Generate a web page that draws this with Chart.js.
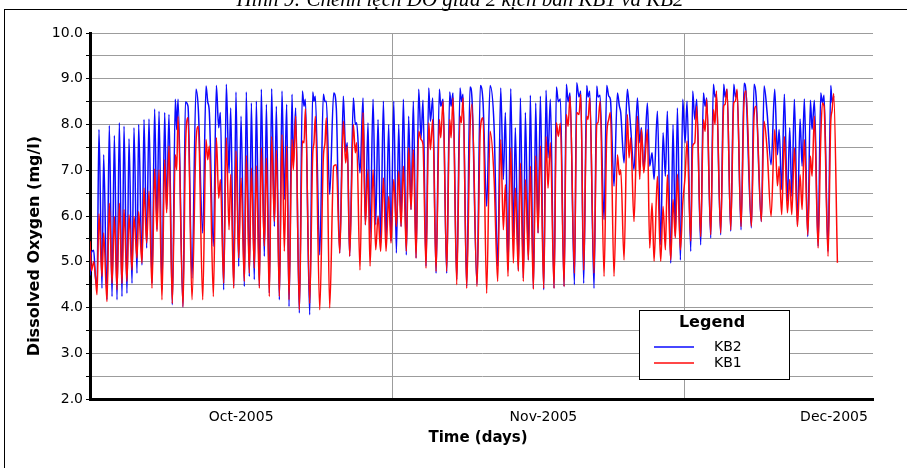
<!DOCTYPE html>
<html>
<head>
<meta charset="utf-8">
<script src="https://cdn.jsdelivr.net/npm/chart.js@4.4.1/dist/chart.umd.min.js"></script>
<style>
  html, body { margin: 0; padding: 0; background: #fff; }
  canvas { display: block; }
</style>
</head>
<body>
<canvas id="chart" width="907" height="468"></canvas>
<script>
// days counted from 1 Oct 2005 (peaks and troughs)
const days = [
  0.00, 0.14, 0.38, 0.55, 0.72, 0.92, 1.23, 1.40, 1.74, 1.98, 2.26, 2.50, 2.77, 3.01, 3.28, 3.49, 3.79, 4.00, 4.31, 4.51,
  4.82, 4.99, 5.33, 5.54, 5.81, 6.05, 6.36, 6.63, 6.87, 7.08, 7.38, 7.66, 7.86, 8.10, 8.44, 8.75, 8.89, 9.03, 9.54, 9.78, 10.05,
  10.46, 10.87, 11.11, 11.56, 11.90, 12.07, 12.24, 12.65, 12.96, 13.20, 13.37, 13.71, 13.98, 14.26, 14.43, 14.74, 14.97, 15.25, 15.49, 15.83,
  16.03, 16.34, 16.55, 16.85, 17.06, 17.37, 17.57, 17.88, 18.09, 18.39, 18.63, 18.91, 19.11, 19.42, 19.69, 19.93, 20.17,
  20.41, 20.72, 20.85, 21.09, 21.47, 21.78, 21.95, 22.09, 22.53, 22.84, 22.97, 23.11, 23.56, 23.93, 24.10, 24.24, 24.58, 24.99, 25.26, 25.61,
  25.98, 26.22, 26.39, 26.63, 27.01, 27.21, 27.35, 27.69, 28.00, 28.24, 28.51, 28.72, 29.03, 29.30, 29.54, 29.81, 30.09,
  30.36, 30.63, 30.87, 31.15, 31.42, 31.66, 31.90, 32.14, 32.44, 32.68, 32.92, 33.16, 33.44, 33.71, 33.95, 34.15, 34.46, 34.74, 34.91, 35.15,
  35.49, 35.83, 35.97, 36.21, 36.58, 36.89, 37.03, 37.23, 37.61, 37.95, 38.09, 38.26, 38.63, 38.97, 39.18, 39.69, 40.03, 40.31,
  40.68, 41.03, 41.44, 41.81, 42.12, 42.39, 42.60, 42.87, 43.15, 43.42, 43.62, 43.93, 44.14, 44.44, 44.65, 44.96, 45.16, 45.47, 45.71, 45.95,
  46.19, 46.53, 46.77, 46.97, 47.21, 47.59, 47.83, 48.03, 48.24, 48.62, 48.85, 49.03, 49.23, 49.68, 49.91, 50.15, 50.33,
  50.63, 50.94, 51.08, 51.25, 51.69, 51.97, 52.10, 52.31, 52.72, 52.99, 53.20, 53.37, 53.74, 54.09, 54.29, 54.43, 54.77, 55.11, 55.28, 55.45,
  55.79, 56.14, 56.38, 56.55, 56.79, 57.16, 57.40, 57.64, 57.85, 58.19, 58.53, 58.77, 59.01, 59.21, 59.56, 59.79, 60.03, 60.24,
  60.55, 60.79, 61.03, 61.23, 61.61, 61.81, 62.02, 62.22, 62.63, 62.91, 63.08, 63.25, 63.66, 63.93, 64.10, 64.24, 64.68, 64.99, 65.13, 65.33,
  65.71, 66.02, 66.19, 66.36, 66.77, 67.08, 67.28, 67.83, 68.10, 68.31, 68.85, 69.13, 69.44, 69.85, 70.22,
  70.50, 70.67, 70.94, 71.21, 71.52, 71.76, 71.97, 72.24, 72.55, 72.82, 73.03, 73.26, 73.61, 73.88, 74.05, 74.29, 74.67, 74.94, 75.11, 75.28,
  75.69, 75.97, 76.10, 76.27, 76.65
];

const kb2 = [
  4.70, 5.20, 5.25, 4.68, 4.45, 7.89, 4.42, 7.34, 4.17, 7.98, 4.24, 7.76, 4.17, 8.04, 4.24, 7.96, 4.31, 7.69, 4.53, 7.93,
  4.75, 8.00, 4.93, 8.11, 5.30, 8.12, 4.53, 8.34, 5.70, 8.29, 4.39, 8.26, 6.14, 8.22, 4.06, 8.55, 7.89, 8.55, 4.01, 8.49, 8.40,
  4.64, 8.77, 8.33, 5.63, 8.84, 8.50, 8.26, 5.34, 8.85, 7.93, 8.26, 4.39, 8.88, 6.94, 8.36, 4.46, 8.71, 4.90, 8.18, 4.46,
  8.71, 4.68, 8.47, 4.61, 8.51, 4.46, 8.77, 5.12, 8.44, 4.31, 8.78, 5.77, 8.40, 4.17, 8.73, 6.36, 8.44,
  4.02, 8.66, 7.10, 8.36, 3.88, 8.73, 8.40, 8.55, 3.84, 8.71, 8.51, 8.62, 5.15, 8.66, 8.50, 8.51, 6.47, 8.69, 8.36, 5.19,
  8.62, 7.40, 7.60, 5.12, 8.58, 8.00, 8.04, 6.94, 8.58, 5.81, 8.04, 5.52, 8.55, 5.81, 8.11, 5.41, 8.51,
  5.48, 8.00, 5.45, 8.51, 5.19, 8.00, 5.77, 8.55, 5.15, 8.18, 6.14, 8.51, 5.08, 8.77, 7.70, 8.53, 4.90, 8.80, 8.07, 8.58,
  4.75, 8.77, 8.40, 8.55, 4.75, 8.71, 8.40, 8.69, 4.61, 8.80, 8.50, 8.66, 4.46, 8.82, 8.55, 4.50, 8.85, 8.47,
  6.21, 8.85, 7.96, 4.90, 8.80, 6.80, 8.26, 4.82, 8.78, 5.55, 7.93, 4.82, 8.58, 4.64, 8.26, 5.04, 8.64, 4.42, 8.47, 5.63,
  8.62, 4.39, 8.75, 7.27, 8.55, 4.42, 8.82, 8.50, 8.56, 4.46, 8.88, 8.50, 8.69, 4.50, 8.91, 8.60, 8.73,
  4.53, 8.85, 8.60, 8.73, 4.42, 8.84, 8.60, 8.64, 5.92, 8.85, 8.62, 8.55, 6.65, 8.69, 8.40, 8.26, 7.16, 8.77, 8.40, 7.93,
  7.01, 8.58, 7.60, 7.93, 7.01, 8.47, 7.09, 7.38, 6.80, 8.29, 5.37, 7.82, 6.87, 8.29, 4.97, 8.00, 5.55, 8.36,
  5.04, 8.55, 7.60, 8.51, 5.23, 8.73, 8.11, 8.55, 5.37, 8.69, 8.40, 8.58, 5.52, 8.88, 8.60, 8.66, 5.59, 8.88, 8.60, 8.77,
  5.67, 8.88, 8.60, 8.73, 5.70, 8.90, 8.69, 5.74, 8.88, 8.62, 5.88, 8.84, 8.26, 7.12, 8.77,
  7.34, 7.89, 6.58, 8.66, 6.32, 7.93, 6.43, 8.55, 5.81, 8.12, 7.09, 8.56, 5.55, 8.53, 7.89, 8.53, 5.34, 8.69, 8.47, 8.64,
  5.23, 8.85, 8.47, 8.62, null
];

const kb1 = [
  5.45, 4.80, 5.00, 4.70, 4.28, 6.05, 4.68, 5.63, 4.13, 6.28, 4.53, 5.99, 4.39, 6.28, 4.53, 6.14, 4.57, 6.03, 4.82, 5.99,
  5.08, 6.10, 4.97, 6.61, 5.41, 6.54, 4.42, 7.03, 5.66, 7.01, 4.17, 7.23, 6.07, 7.53, 4.09, 7.34, 7.01, 8.18, 4.01, 7.38, 8.15,
  4.17, 7.60, 7.96, 4.17, 7.67, 7.23, 7.53, 4.24, 7.71, 6.39, 6.80, 4.53, 7.71, 5.70, 6.91, 4.42, 7.42, 5.08, 6.83, 4.57,
  7.32, 4.75, 7.05, 4.86, 7.10, 4.42, 7.49, 5.34, 7.27, 4.24, 7.74, 5.88, 7.44, 4.24, 7.78, 5.23, 7.53,
  4.17, 7.67, 7.01, 8.18, 3.95, 7.64, 7.60, 8.34, 4.09, 7.34, 7.60, 8.18, 3.95, 7.27, 7.60, 8.15, 3.99, 7.09, 7.12, 5.19,
  8.07, 7.16, 7.53, 5.12, 8.00, 7.38, 7.60, 4.82, 8.26, 5.81, 7.01, 4.90, 7.01, 5.26, 6.00, 5.23, 6.83,
  5.23, 6.43, 5.41, 6.80, 5.77, 6.98, 5.77, 7.09, 5.23, 7.49, 6.14, 7.45, 5.08, 7.85, 7.67, 7.56, 4.86, 8.04, 7.45, 8.11,
  4.79, 8.11, 7.71, 8.51, 4.79, 8.11, 7.71, 8.58, 4.50, 8.18, 8.04, 8.58, 4.42, 7.85, 8.44, 4.46, 7.89, 8.15,
  4.31, 7.85, 6.83, 4.57, 7.67, 5.70, 6.69, 4.68, 7.49, 4.97, 6.61, 4.79, 7.16, 4.57, 6.80, 5.04, 7.09, 4.40, 7.31, 5.63,
  7.53, 4.42, 7.74, 6.61, 7.60, 4.42, 8.04, 7.74, 8.03, 4.46, 8.22, 7.96, 8.62, 4.75, 8.26, 8.22, 8.66,
  4.82, 8.18, 8.11, 8.58, 4.75, 8.00, 8.04, 8.51, 4.68, 7.74, 8.11, 8.26, 4.68, 7.34, 6.90, 7.01, 5.04, 8.22, 7.27, 7.71,
  5.88, 8.18, 6.80, 7.89, 6.94, 7.89, 5.30, 6.28, 5.01, 6.87, 5.01, 6.21, 5.26, 6.90, 5.04, 6.36, 5.52, 6.91,
  5.26, 6.28, 6.87, 7.64, 5.45, 7.53, 7.60, 8.40, 5.55, 8.11, 7.85, 8.55, 5.59, 8.33, 8.00, 8.73, 5.63, 8.40, 8.44, 8.77,
  5.70, 8.47, 8.51, 8.77, 5.77, 8.51, 8.73, 5.77, 8.18, 8.40, 5.88, 8.07, 7.45, 5.99, 7.89,
  6.66, 7.09, 6.03, 7.74, 6.07, 6.80, 6.03, 7.49, 5.77, 6.90, 6.14, 7.67, 5.59, 7.31, 6.87, 8.18, 5.30, 7.67, 8.47, 8.40,
  5.12, 8.07, 8.30, 8.68, 4.98
];

// month boundaries (1 Nov, 1 Dec) and mid-month label positions
const monthBreaks = [31, 61];
const monthLabelDays = [15.5, 46.5, 76.3];
const monthLabels = ["Oct-2005", "Nov-2005", "Dec-2005"];

const titleText = "Hình 9: Chênh lệch DO giữa 2 kịch bản KB1 và KB2";
const gridGray = "#9c9c9c";
const kb2Color = "#0a0aff";
const kb1Color = "#ff0a0a";

const decor = {
  id: "decor",
  beforeDraw(chart) {
    const ctx = chart.ctx;
    ctx.save();
    ctx.fillStyle = "#fff";
    ctx.fillRect(0, 0, chart.width, chart.height);
    ctx.strokeStyle = "#000";
    ctx.lineWidth = 1;
    ctx.strokeRect(4.5, 9.5, chart.width + 10, chart.height + 10);
    ctx.fillStyle = "#000";
    ctx.font = "italic 21px 'Liberation Serif'";
    ctx.textAlign = "center";
    ctx.textBaseline = "alphabetic";
    ctx.fillText(titleText, 460, 6);
    ctx.restore();
  },
  afterDraw(chart) {
    const ctx = chart.ctx;
    ctx.save();
    ctx.fillStyle = "#000";
    ctx.textAlign = "center";
    ctx.textBaseline = "middle";

    // axis titles
    ctx.font = "bold 15px 'DejaVu Sans'";
    ctx.fillText("Time (days)", 478, 438);
    ctx.font = "bold 16px 'DejaVu Sans'";
    ctx.translate(35, 246);
    ctx.rotate(-Math.PI / 2);
    ctx.fillText("Dissolved Oxygen (mg/l)", 0, 0);
    ctx.setTransform(1, 0, 0, 1, 0, 0);

    // legend box
    const bx = 639.5, by = 310.5, bw = 150, bh = 69;
    ctx.fillStyle = "#fff";
    ctx.fillRect(bx, by, bw, bh);
    ctx.strokeStyle = "#000";
    ctx.lineWidth = 1;
    ctx.strokeRect(bx, by, bw, bh);
    ctx.fillStyle = "#000";
    ctx.font = "bold 16px 'DejaVu Sans'";
    ctx.fillText("Legend", 712, 323);

    ctx.font = "14px 'DejaVu Sans'";
    ctx.textAlign = "left";
    const items = [["KB2", kb2Color], ["KB1", kb1Color]];
    items.forEach(([name, color], i) => {
      const y = 347 + i * 16;
      ctx.strokeStyle = color;
      ctx.lineWidth = 1.5;
      ctx.beginPath();
      ctx.moveTo(654, y);
      ctx.lineTo(694, y);
      ctx.stroke();
      ctx.fillStyle = "#000";
      ctx.fillText(name, 714, y);
    });
    ctx.restore();
  }
};

new Chart(document.getElementById("chart"), {
  type: "line",
  data: {
    datasets: [
      {
        label: "KB2",
        data: days.map((d, i) => ({ x: d, y: kb2[i] })),
        borderColor: kb2Color,
        borderWidth: 1.5,
        pointRadius: 0,
        cubicInterpolationMode: "monotone",
        fill: false,
        order: 1,
      },
      {
        label: "KB1",
        data: days.map((d, i) => ({ x: d, y: kb1[i] })),
        borderColor: kb1Color,
        borderWidth: 1.5,
        pointRadius: 0,
        cubicInterpolationMode: "monotone",
        fill: false,
        order: 0,
      },
    ],
  },
  options: {
    responsive: false,
    animation: false,
    devicePixelRatio: 1,
    layout: { padding: { top: 33, right: 34, left: 0, bottom: 0 } },
    plugins: {
      legend: { display: false },
      tooltip: { enabled: false },
    },
    scales: {
      x: {
        type: "linear",
        position: "bottom",
        min: 0,
        max: 80.3,
        weight: 0,
        afterBuildTicks: (scale) => {
          scale.ticks = monthBreaks.map((v) => ({ value: v }));
        },
        afterFit: (scale) => {
          scale.height = 0;
        },
        ticks: { display: false },
        grid: { color: gridGray, lineWidth: 1, drawTicks: false },
        border: { display: true, color: "#000", width: 3 },
      },
      xl: {
        type: "linear",
        position: "bottom",
        min: 0,
        max: 80.3,
        weight: 1,
        afterBuildTicks: (scale) => {
          scale.ticks = monthLabelDays.map((v) => ({ value: v }));
        },
        afterFit: (scale) => {
          scale.height = 69;
        },
        ticks: {
          autoSkip: false,
          maxRotation: 0,
          padding: 10,
          color: "#000",
          font: { family: "'DejaVu Sans'", size: 14 },
          callback: (value, index) => monthLabels[index],
        },
        grid: { display: false, drawTicks: false },
        border: { display: false },
      },
      y: {
        min: 2,
        max: 10,
        afterFit: (scale) => {
          scale.width = 90;
        },
        ticks: {
          stepSize: 0.5,
          padding: 3,
          color: "#000",
          font: { family: "'DejaVu Sans'", size: 14 },
          callback: (value) => (Number.isInteger(value) ? value.toFixed(1) : ""),
        },
        grid: { color: gridGray, lineWidth: 1, tickLength: 4, tickColor: "#000" },
        border: { display: true, color: "#000", width: 3 },
      },
    },
  },
  plugins: [decor],
});
</script>
</body>
</html>
